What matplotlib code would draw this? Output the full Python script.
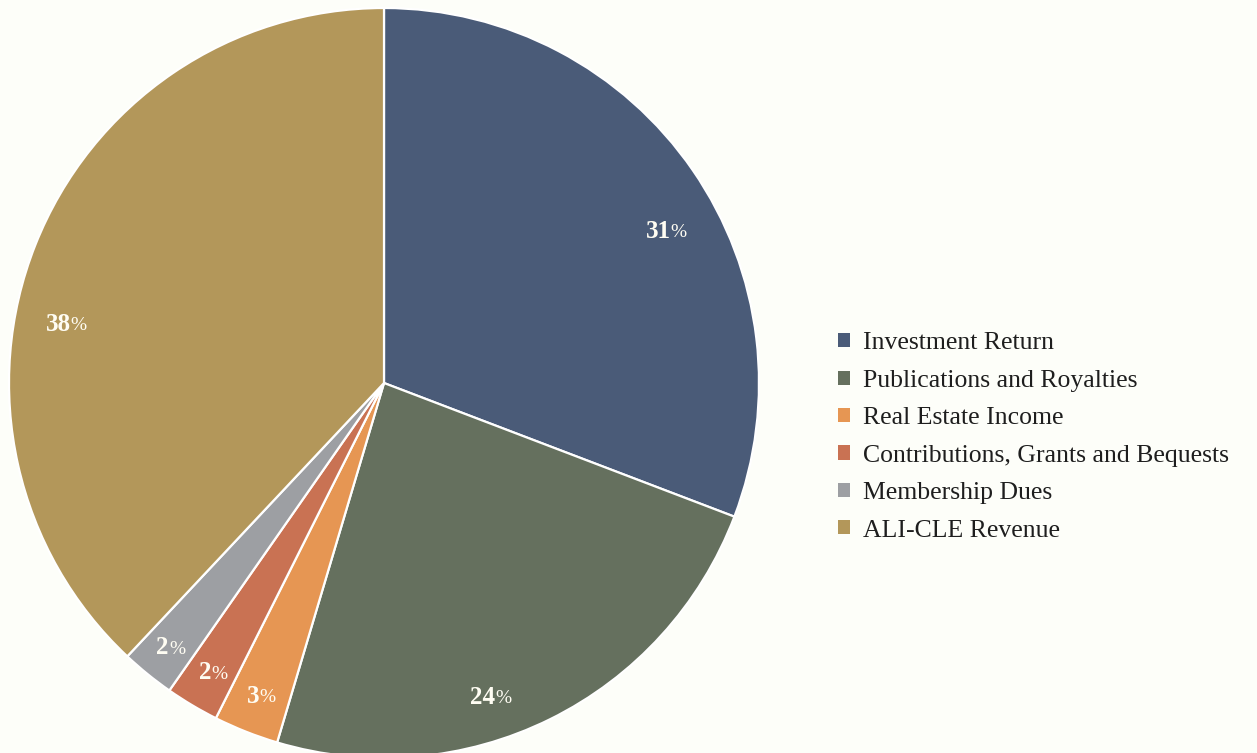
import numpy as np
import matplotlib.pyplot as plt
from matplotlib.patches import Patch

plt.rcParams['font.family'] = ['Liberation Serif', 'DejaVu Serif']

categories = ['Investment Return', 'Publications and Royalties', 'Real Estate Income',
              'Contributions, Grants and Bequests', 'Membership Dues', 'ALI-CLE Revenue']
shares = [30.8, 23.8, 2.8, 2.3, 2.3, 38.0]
pct_text = ['31', '24', '3', '2', '2', '38']
colors = ['#4A5B78', '#65705E', '#E69653', '#C97253', '#9D9FA3', '#B3975A']

# where the label sits inside each wedge (fraction of sweep from start, radius)
lab_frac = [0.56, 0.58, 0.5, 0.5, 0.5, 0.42]
lab_rad = [0.865, 0.89, 0.9, 0.9, 0.91, 0.85]

bg = '#FDFEF9'
fig = plt.figure(figsize=(12.57, 7.53), dpi=100, facecolor=bg)

cx, cy, R = 384, 383, 375
ax = fig.add_axes([(cx - R) / 1257, (753 - cy - R) / 753, 2 * R / 1257, 2 * R / 753])
ax.set_facecolor(bg)

wedges, _ = ax.pie(shares, colors=colors, startangle=90, counterclock=False,
                   wedgeprops=dict(edgecolor='white', linewidth=1.6), radius=1)
ax.set_xlim(-1, 1)
ax.set_ylim(-1, 1)
ax.set_aspect('auto')
ax.axis('off')

for w, t, f, r in zip(wedges, pct_text, lab_frac, lab_rad):
    # clockwise pie: theta2 is the start of the sweep
    a = np.deg2rad(w.theta2 - f * (w.theta2 - w.theta1))
    x, y = r * np.cos(a), r * np.sin(a)
    ax.text(x, y, t, ha='right', va='center', color='#FFFDF3',
            fontsize=18, fontweight='bold')
    ax.text(x, y - 0.003, '%', ha='left', va='center', color='#FFFDF3', fontsize=14)

handles = [Patch(facecolor=c, edgecolor='none') for c in colors]
fig.legend(handles, categories, loc='center left', bbox_to_anchor=(815 / 1257, 1 - 437 / 753),
           frameon=False, fontsize=18.5, handlelength=0.47, handleheight=0.47,
           handletextpad=0.5, labelspacing=0.6, labelcolor='#1E1E1E')

fig.savefig('out.png', dpi=100, facecolor=bg)
